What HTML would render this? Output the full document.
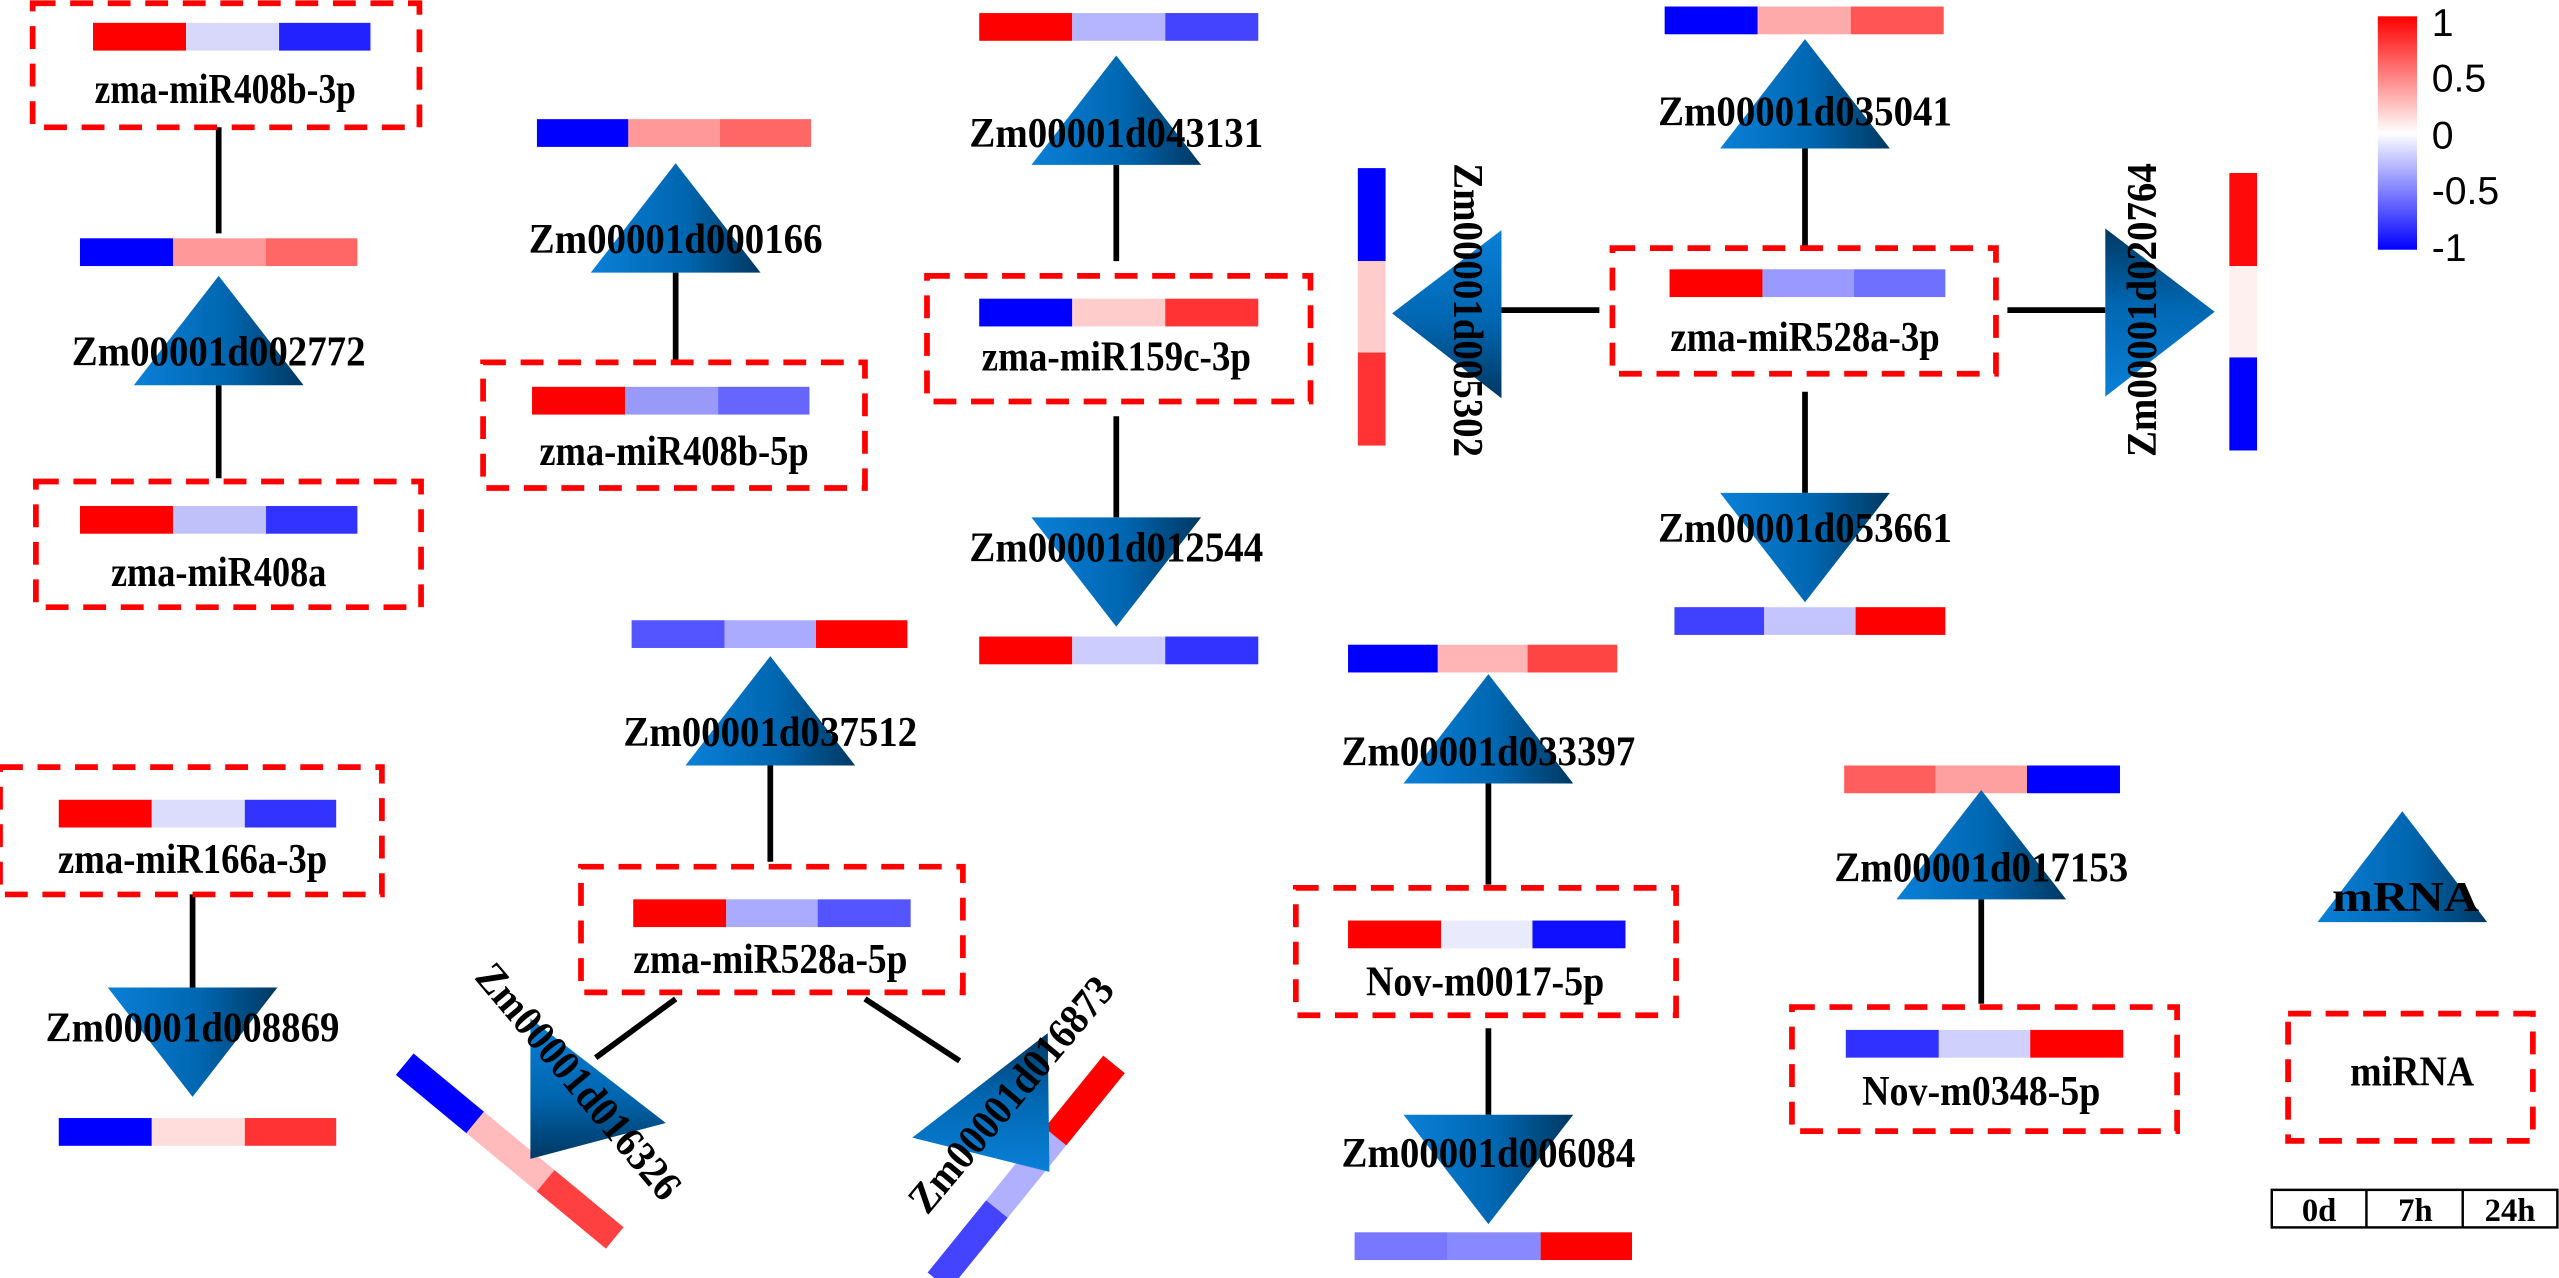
<!DOCTYPE html>
<html><head><meta charset="utf-8"><style>
html,body{margin:0;padding:0;background:#fff;}
svg{display:block;}
text{font-family:"Liberation Serif",serif;font-weight:bold;fill:#000;}
.lg{font-family:"Liberation Sans",sans-serif;font-weight:normal;}
</style></head><body>
<svg width="2559" height="1278" viewBox="0 0 1568 783" preserveAspectRatio="none" xmlns="http://www.w3.org/2000/svg">
<defs>
<linearGradient id="gh" x1="0" y1="0" x2="1" y2="0"><stop offset="0" stop-color="#0a80d8"/><stop offset="0.55" stop-color="#0066b0"/><stop offset="1" stop-color="#003862"/></linearGradient>
<linearGradient id="gv" x1="0" y1="0" x2="0" y2="1"><stop offset="0" stop-color="#0a80d8"/><stop offset="0.55" stop-color="#0066b0"/><stop offset="1" stop-color="#003862"/></linearGradient>
<linearGradient id="gvr" x1="0" y1="1" x2="0" y2="0"><stop offset="0" stop-color="#0a80d8"/><stop offset="0.55" stop-color="#0066b0"/><stop offset="1" stop-color="#003862"/></linearGradient>
<linearGradient id="cb" x1="0" y1="0" x2="0" y2="1"><stop offset="0" stop-color="#ff0000"/><stop offset="0.5" stop-color="#ffffff"/><stop offset="1" stop-color="#0000ff"/></linearGradient>
</defs>
<g fill="none" stroke="#000" stroke-width="3.5">
<line x1="134" y1="78" x2="134" y2="143"/>
<line x1="134" y1="236" x2="134" y2="293"/>
<line x1="414" y1="167" x2="414" y2="222"/>
<line x1="684" y1="101" x2="684" y2="160"/>
<line x1="684" y1="255" x2="684" y2="317"/>
<line x1="1106" y1="91" x2="1106" y2="152"/>
<line x1="1106" y1="240" x2="1106" y2="302"/>
<line x1="920" y1="190" x2="980" y2="190"/>
<line x1="1230" y1="190" x2="1290" y2="190"/>
<line x1="118" y1="548" x2="118" y2="605"/>
<line x1="472" y1="469" x2="472" y2="528"/>
<line x1="414" y1="612" x2="365" y2="648"/>
<line x1="530" y1="612" x2="588" y2="650"/>
<line x1="912" y1="480" x2="912" y2="542"/>
<line x1="912" y1="630" x2="912" y2="683"/>
<line x1="1214" y1="551" x2="1214" y2="615"/>
</g>
<g fill="none" stroke="#ff0000" stroke-width="3.5" stroke-dasharray="14 9">
<rect x="20" y="2" width="237" height="76"/>
<rect x="22" y="295" width="236" height="77"/>
<rect x="296" y="222" width="234" height="77"/>
<rect x="568" y="169" width="235" height="77"/>
<rect x="988" y="152" width="235" height="77"/>
<rect x="0" y="470" width="234" height="78"/>
<rect x="356" y="531" width="234" height="77"/>
<rect x="794" y="544" width="233" height="78"/>
<rect x="1098" y="617" width="236" height="76"/>
<rect x="1402" y="621" width="150" height="78"/>
</g>
<g>
<rect x="57" y="14" width="57" height="17" fill="#ff0000"/><rect x="114" y="14" width="57" height="17" fill="#d8d8fa"/><rect x="171" y="14" width="56" height="17" fill="#2222ff"/>
<rect x="49" y="146" width="57" height="17" fill="#0000ff"/><rect x="106" y="146" width="57" height="17" fill="#ff9999"/><rect x="163" y="146" width="56" height="17" fill="#ff6666"/>
<rect x="49" y="310" width="57" height="17" fill="#ff0000"/><rect x="106" y="310" width="57" height="17" fill="#c0c0fa"/><rect x="163" y="310" width="56" height="17" fill="#3333ff"/>
<rect x="329" y="73" width="56" height="17" fill="#0000ff"/><rect x="385" y="73" width="56" height="17" fill="#ff9999"/><rect x="441" y="73" width="56" height="17" fill="#ff6666"/>
<rect x="326" y="237" width="57" height="17" fill="#ff0000"/><rect x="383" y="237" width="57" height="17" fill="#9999fa"/><rect x="440" y="237" width="56" height="17" fill="#6666ff"/>
<rect x="600" y="8" width="57" height="17" fill="#ff0000"/><rect x="657" y="8" width="57" height="17" fill="#b5b5ff"/><rect x="714" y="8" width="57" height="17" fill="#4444ff"/>
<rect x="600" y="183" width="57" height="17" fill="#0000ff"/><rect x="657" y="183" width="57" height="17" fill="#ffcccc"/><rect x="714" y="183" width="57" height="17" fill="#ff3333"/>
<rect x="600" y="390" width="57" height="17" fill="#ff0000"/><rect x="657" y="390" width="57" height="17" fill="#ccccff"/><rect x="714" y="390" width="57" height="17" fill="#3333ff"/>
<rect x="1020" y="4" width="57" height="17" fill="#0000ff"/><rect x="1077" y="4" width="57" height="17" fill="#ffaaaa"/><rect x="1134" y="4" width="57" height="17" fill="#ff5555"/>
<rect x="1023" y="165" width="57" height="17" fill="#ff0000"/><rect x="1080" y="165" width="56" height="17" fill="#9999ff"/><rect x="1136" y="165" width="56" height="17" fill="#7070ff"/>
<rect x="1026" y="372" width="55" height="17" fill="#4040ff"/><rect x="1081" y="372" width="56" height="17" fill="#c4c4ff"/><rect x="1137" y="372" width="55" height="17" fill="#ff0000"/>
<rect x="832" y="103" width="17" height="57" fill="#0000ff"/><rect x="832" y="160" width="17" height="56" fill="#ffcccc"/><rect x="832" y="216" width="17" height="57" fill="#ff3333"/>
<rect x="1366" y="106" width="17" height="57" fill="#ff0a0a"/><rect x="1366" y="163" width="17" height="56" fill="#fff0f0"/><rect x="1366" y="219" width="17" height="57" fill="#0000ff"/>
<rect x="36" y="490" width="57" height="17" fill="#ff0000"/><rect x="93" y="490" width="57" height="17" fill="#dcdcfc"/><rect x="150" y="490" width="56" height="17" fill="#3333ff"/>
<rect x="36" y="685" width="57" height="17" fill="#0000ff"/><rect x="93" y="685" width="57" height="17" fill="#ffdddd"/><rect x="150" y="685" width="56" height="17" fill="#ff3333"/>
<rect x="387" y="380" width="57" height="17" fill="#5555ff"/><rect x="444" y="380" width="56" height="17" fill="#aaaaff"/><rect x="500" y="380" width="56" height="17" fill="#ff0000"/>
<rect x="388" y="551" width="57" height="17" fill="#ff0000"/><rect x="445" y="551" width="56" height="17" fill="#aaaaff"/><rect x="501" y="551" width="57" height="17" fill="#5555ff"/>
<rect x="826" y="395" width="55" height="17" fill="#0000ff"/><rect x="881" y="395" width="55" height="17" fill="#ffb5b5"/><rect x="936" y="395" width="55" height="17" fill="#ff4444"/>
<rect x="826" y="564" width="57" height="17" fill="#ff0000"/><rect x="883" y="564" width="56" height="17" fill="#eaeafd"/><rect x="939" y="564" width="57" height="17" fill="#1010ff"/>
<rect x="830" y="755" width="57" height="17" fill="#7777ff"/><rect x="887" y="755" width="57" height="17" fill="#8888ff"/><rect x="944" y="755" width="56" height="17" fill="#ff0000"/>
<rect x="1130" y="469" width="56" height="17" fill="#ff5e5e"/><rect x="1186" y="469" width="56" height="17" fill="#ffa0a0"/><rect x="1242" y="469" width="57" height="17" fill="#0000ff"/>
<rect x="1131" y="631" width="57" height="17" fill="#3030ff"/><rect x="1188" y="631" width="56" height="17" fill="#d0d0fc"/><rect x="1244" y="631" width="57" height="17" fill="#ff0000"/>
</g>
<g transform="translate(248,652) rotate(39.6)">
<rect x="0" y="-8.5" width="56" height="17" fill="#0000ff"/><rect x="56" y="-8.5" width="56" height="17" fill="#ffbbbb"/><rect x="112" y="-8.5" width="55" height="17" fill="#ff4040"/>
</g>
<g transform="translate(575,785) rotate(-51)">
<rect x="0" y="-8.5" width="57" height="17" fill="#4444ff"/><rect x="57" y="-8.5" width="57" height="17" fill="#b0b0ff"/><rect x="114" y="-8.5" width="57" height="17" fill="#ff0000"/>
</g>
<g>
<polygon points="134,169 82,236 186,236" fill="url(#gh)"/>
<polygon points="414,100 362,167 466,167" fill="url(#gh)"/>
<polygon points="684,34 632,101 736,101" fill="url(#gh)"/>
<polygon points="1106,24 1054,91 1158,91" fill="url(#gh)"/>
<polygon points="632,317 736,317 684,384" fill="url(#gh)"/>
<polygon points="1054,302 1158,302 1106,369" fill="url(#gh)"/>
<polygon points="853,192 920,141 920,244" fill="url(#gv)"/>
<polygon points="1290,140 1290,243 1357,191" fill="url(#gvr)"/>
<polygon points="66,605 170,605 118,672" fill="url(#gh)"/>
<polygon points="472,402 420,469 524,469" fill="url(#gh)"/>
<polygon points="912,413 860,480 964,480" fill="url(#gh)"/>
<polygon points="860,683 964,683 912,750" fill="url(#gh)"/>
<polygon points="1214,484 1162,551 1266,551" fill="url(#gh)"/>
<polygon points="325,624 408,688 325,710" fill="url(#gv)"/>
<polygon points="642,633 559,697 643,718" fill="url(#gvr)"/>
<polygon points="1472,497 1420,565 1524,565" fill="url(#gh)"/>
</g>
<g font-size="26" text-anchor="middle">
<text x="134" y="224" textLength="180" lengthAdjust="spacingAndGlyphs">Zm00001d002772</text>
<text x="414" y="155" textLength="180" lengthAdjust="spacingAndGlyphs">Zm00001d000166</text>
<text x="684" y="90" textLength="180" lengthAdjust="spacingAndGlyphs">Zm00001d043131</text>
<text x="1106" y="77" textLength="180" lengthAdjust="spacingAndGlyphs">Zm00001d035041</text>
<text x="684" y="344" textLength="180" lengthAdjust="spacingAndGlyphs">Zm00001d012544</text>
<text x="1106" y="332" textLength="180" lengthAdjust="spacingAndGlyphs">Zm00001d053661</text>
<text transform="translate(891,190) rotate(90)" x="0" y="0" textLength="180" lengthAdjust="spacingAndGlyphs">Zm00001d005302</text>
<text transform="translate(1321,190) rotate(-90)" x="0" y="0" textLength="180" lengthAdjust="spacingAndGlyphs">Zm00001d020764</text>
<text x="118" y="638" textLength="180" lengthAdjust="spacingAndGlyphs">Zm00001d008869</text>
<text x="472" y="457" textLength="180" lengthAdjust="spacingAndGlyphs">Zm00001d037512</text>
<text x="912" y="469" textLength="180" lengthAdjust="spacingAndGlyphs">Zm00001d033397</text>
<text x="912" y="715" textLength="180" lengthAdjust="spacingAndGlyphs">Zm00001d006084</text>
<text x="1214" y="540" textLength="180" lengthAdjust="spacingAndGlyphs">Zm00001d017153</text>
<text transform="translate(348,668) rotate(50)" x="0" y="0" textLength="180" lengthAdjust="spacingAndGlyphs">Zm00001d016326</text>
<text transform="translate(626,676) rotate(-50)" x="0" y="0" textLength="180" lengthAdjust="spacingAndGlyphs">Zm00001d016873</text>
<text x="1474" y="558" textLength="90" lengthAdjust="spacingAndGlyphs">mRNA</text>
</g>
<g font-size="26" text-anchor="middle">
<text x="138" y="63" textLength="160" lengthAdjust="spacingAndGlyphs">zma-miR408b-3p</text>
<text x="134" y="359" textLength="132" lengthAdjust="spacingAndGlyphs">zma-miR408a</text>
<text x="413" y="285" textLength="165" lengthAdjust="spacingAndGlyphs">zma-miR408b-5p</text>
<text x="684" y="227" textLength="165" lengthAdjust="spacingAndGlyphs">zma-miR159c-3p</text>
<text x="1106" y="215" textLength="165" lengthAdjust="spacingAndGlyphs">zma-miR528a-3p</text>
<text x="118" y="535" textLength="165" lengthAdjust="spacingAndGlyphs">zma-miR166a-3p</text>
<text x="472" y="596" textLength="168" lengthAdjust="spacingAndGlyphs">zma-miR528a-5p</text>
<text x="910" y="610" textLength="146" lengthAdjust="spacingAndGlyphs">Nov-m0017-5p</text>
<text x="1214" y="677" textLength="146" lengthAdjust="spacingAndGlyphs">Nov-m0348-5p</text>
<text x="1478" y="665" textLength="76" lengthAdjust="spacingAndGlyphs">miRNA</text>
</g>
<rect x="1457" y="10" width="24" height="143" fill="url(#cb)"/>
<g font-size="24">
<text class="lg" x="1490" y="22">1</text>
<text class="lg" x="1490" y="56">0.5</text>
<text class="lg" x="1490" y="91">0</text>
<text class="lg" x="1490" y="125">-0.5</text>
<text class="lg" x="1490" y="160">-1</text>
</g>
<g fill="none" stroke="#000" stroke-width="1.5">
<rect x="1392" y="729" width="175" height="23"/>
<line x1="1450" y1="729" x2="1450" y2="752"/>
<line x1="1509" y1="729" x2="1509" y2="752"/>
</g>
<g font-size="20" text-anchor="middle">
<text x="1421" y="748">0d</text>
<text x="1480" y="748">7h</text>
<text x="1538" y="748">24h</text>
</g>
</svg>
</body></html>
